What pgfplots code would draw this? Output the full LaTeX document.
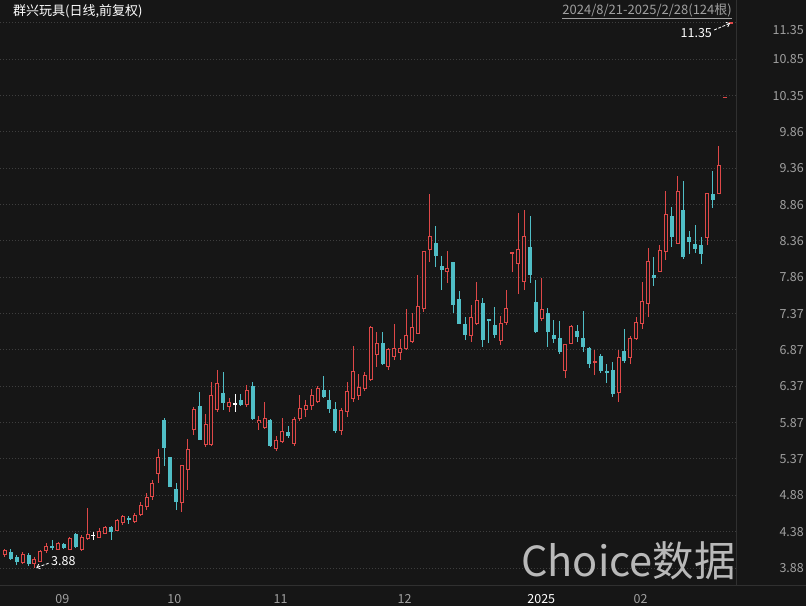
\documentclass[border=0pt]{standalone}
\usepackage{pgfplots}
\pgfplotsset{compat=1.18}
\usepackage{pgfplotstable}
\usepackage{fontspec}
\setmainfont{Noto Sans CJK SC}
\usetikzlibrary{arrows.meta}

\definecolor{bg}{RGB}{22,22,22}
\definecolor{upc}{RGB}{222,72,72}
\definecolor{dnc}{RGB}{80,190,198}
\definecolor{gridc}{RGB}{62,62,62}
\definecolor{linec}{RGB}{48,48,48}
\definecolor{labc}{RGB}{160,160,160}
\definecolor{wmc}{RGB}{185,185,185}

% i = trading day (0 = 2024/8/21), o h l c
\pgfplotstableread{
i o h l c
0 4.06 4.14 4.03 4.12
3 3.95 4.10 3.94 4.06
5 3.94 4.03 3.88 3.99
6 3.97 4.13 3.96 4.11
7 4.12 4.22 4.09 4.18
9 4.14 4.23 4.13 4.21
11 4.14 4.30 4.13 4.28
13 4.14 4.33 4.11 4.30
14 4.28 4.70 4.27 4.34
16 4.30 4.43 4.29 4.38
17 4.35 4.46 4.34 4.44
19 4.40 4.55 4.39 4.53
20 4.51 4.61 4.47 4.58
22 4.52 4.63 4.49 4.60
23 4.61 4.79 4.59 4.74
24 4.72 4.91 4.68 4.85
25 4.86 5.09 4.81 5.04
26 5.18 5.51 5.05 5.40
30 4.78 5.29 4.65 5.29
31 5.23 5.65 4.95 5.51
32 5.78 6.09 5.70 6.05
34 5.57 5.99 5.54 5.84
35 5.57 6.43 5.55 6.25
36 6.05 6.59 6.02 6.41
38 6.09 6.21 6.02 6.15
41 6.12 6.39 6.08 6.31
43 5.87 5.96 5.77 5.90
44 5.81 6.15 5.78 5.93
46 5.52 5.69 5.49 5.63
47 5.61 5.93 5.60 5.75
49 5.58 5.95 5.55 5.92
50 5.93 6.25 5.89 6.07
51 6.05 6.18 5.95 6.11
52 6.11 6.33 6.05 6.24
53 6.16 6.37 6.14 6.34
57 5.77 6.07 5.70 6.04
58 6.02 6.43 5.95 6.30
59 6.21 6.92 6.16 6.58
60 6.24 6.54 6.18 6.36
61 6.34 6.56 6.30 6.52
62 6.46 7.20 6.44 7.18
63 6.80 7.12 6.64 6.96
65 6.64 6.89 6.59 6.87
66 6.78 7.22 6.73 6.89
67 6.84 7.02 6.73 6.89
68 6.89 7.43 6.87 7.07
69 6.99 7.37 6.96 7.17
70 7.10 7.90 7.10 7.46
71 7.44 8.22 7.39 8.22
72 8.25 9.01 8.07 8.42
75 7.94 8.22 7.79 7.99
79 7.07 7.48 6.98 7.32
80 7.23 7.80 7.21 7.54
84 7.00 7.34 6.93 7.23
85 7.24 7.69 7.21 7.44
86 8.19 8.20 7.94 8.20
87 8.06 8.74 7.64 8.24
88 7.80 8.79 7.69 8.42
91 7.30 7.86 7.26 7.42
95 6.59 6.94 6.49 6.94
96 6.96 7.21 6.95 7.19
100 6.70 6.87 6.53 6.71
104 6.28 6.87 6.15 6.77
106 6.77 7.06 6.68 7.03
107 7.03 7.32 7.01 7.24
108 7.23 7.80 7.15 7.53
109 7.50 8.26 7.32 8.08
111 7.94 8.31 7.94 8.23
112 8.22 9.05 8.10 8.72
114 8.33 9.25 8.33 9.04
119 8.41 9.01 8.31 9.01
121 9.01 9.67 9.00 9.39
122 10.33 10.33 10.33 10.33
123 11.35 11.35 11.35 11.35
}\up

\pgfplotstableread{
i o h l c
1 4.10 4.14 3.99 4.01
2 4.03 4.06 3.92 3.96
4 4.06 4.09 3.91 3.94
8 4.18 4.27 4.13 4.15
10 4.21 4.22 4.14 4.15
12 4.34 4.36 4.15 4.17
18 4.44 4.46 4.27 4.38
21 4.56 4.59 4.48 4.54
27 5.91 5.93 5.28 5.53
28 5.40 5.40 4.99 4.99
29 4.96 5.05 4.68 4.78
33 6.10 6.29 5.63 5.63
37 6.28 6.56 6.04 6.14
40 6.18 6.27 6.10 6.12
42 6.37 6.43 5.91 5.92
45 5.91 5.92 5.54 5.55
48 5.74 5.83 5.66 5.69
54 6.32 6.51 6.21 6.23
55 6.18 6.32 6.01 6.06
56 6.06 6.16 5.73 5.76
64 6.96 7.12 6.66 6.68
73 8.33 8.57 8.01 8.16
74 8.02 8.15 7.69 7.96
76 8.07 8.07 7.37 7.48
77 7.57 7.68 7.22 7.23
78 7.23 7.32 7.00 7.07
81 7.51 7.58 6.91 7.00
82 7.29 7.29 6.96 7.26
83 7.21 7.46 7.03 7.07
89 8.28 8.71 7.78 7.90
90 7.52 7.83 7.10 7.12
92 7.38 7.44 6.91 7.11
93 7.07 7.28 6.96 7.02
94 7.03 7.26 6.81 6.84
97 7.13 7.21 6.98 7.04
98 7.03 7.40 6.84 6.91
99 6.90 6.91 6.62 6.68
101 6.79 6.82 6.55 6.58
102 6.58 6.68 6.42 6.55
103 6.59 6.71 6.23 6.27
105 6.86 7.15 6.69 6.72
110 7.90 8.14 7.74 7.85
113 8.70 8.83 8.28 8.41
115 8.79 9.19 8.12 8.14
116 8.41 8.50 8.19 8.35
117 8.32 8.58 8.20 8.25
118 8.31 8.41 8.05 8.19
120 9.01 9.32 8.82 8.92
}\down

\pgfplotstableread{
i o h l c
15 4.33 4.37 4.27 4.33
39 6.13 6.27 6.02 6.13
}\flat

% one error bar per candle: colour, line width
\pgfplotsset{
  candle/.style 2 args={draw=none, mark=none, forget plot,
    error bars/y dir=both, error bars/y explicit,
    error bars/error mark=none,
    error bars/error bar style={draw=#1, line width=#2, solid}},
}

\begin{document}
\begin{tikzpicture}[x=1pt,y=1pt]
\fill[bg] (0,0) rectangle (806,606);

\begin{axis}[
  at={(0pt,21pt)}, anchor=south west,
  scale only axis, width=736pt, height=585pt,
  xmin=-0.847, xmax=123.9,
  ymin=3.647, ymax=11.665,
  axis line style={draw=none},
  tick style={draw=none},
  ymajorgrids,
  major grid style={draw=gridc, line width=1pt, dash pattern=on 1pt off 2pt},
  ytick={3.88,4.378,4.876,5.374,5.872,6.37,6.868,7.366,7.864,8.362,8.86,9.358,9.856,10.354,10.852,11.35},
  yticklabels={3.88,4.38,4.88,5.37,5.87,6.37,6.87,7.37,7.86,8.36,8.86,9.36,9.86,10.35,10.85,\raisebox{-7pt}{11.35}},
  yticklabel pos=right,
  yticklabel style={anchor=base east, inner sep=0pt, xshift=68pt, yshift=-4.5pt, text=labc,
    font=\fontsize{12.5pt}{14pt}\selectfont},
  xtick={8,27,45,66,88,106},
  xticklabels={09,10,11,12,\textcolor{white}{2025},02},
  xticklabel style={anchor=base west, inner sep=0pt, xshift=3pt, yshift=-18.5pt, text=labc,
    font=\fontsize{12.5pt}{14pt}\selectfont},
  /pgf/number format/assume math mode=true,
]
% up days: hollow red
\addplot[candle={upc}{1pt}] table[x=i, y expr=(\thisrow{h}+\thisrow{l})/2,
  y error expr=(\thisrow{h}-\thisrow{l})/2] {\up};
\addplot[candle={upc}{4pt}] table[x=i, y expr=(\thisrow{o}+\thisrow{c})/2,
  y error expr=abs(\thisrow{c}-\thisrow{o})/2+0.00685] {\up};
\addplot[candle={bg}{2pt}] table[x=i, y expr=(\thisrow{o}+\thisrow{c})/2,
  y error expr={max(abs(\thisrow{c}-\thisrow{o})/2-0.00685,0)}] {\up};
% down days: filled cyan
\addplot[candle={dnc}{1pt}] table[x=i, y expr=(\thisrow{h}+\thisrow{l})/2,
  y error expr=(\thisrow{h}-\thisrow{l})/2] {\down};
\addplot[candle={dnc}{4pt}] table[x=i, y expr=(\thisrow{o}+\thisrow{c})/2,
  y error expr={max(abs(\thisrow{c}-\thisrow{o})/2,0.00685)}] {\down};
% unchanged: white cross
\addplot[candle={white}{1pt}] table[x=i, y expr=(\thisrow{h}+\thisrow{l})/2,
  y error expr=(\thisrow{h}-\thisrow{l})/2] {\flat};
\addplot[candle={white}{4pt}] table[x=i, y expr=(\thisrow{o}+\thisrow{c})/2,
  y error expr=0.00685] {\flat};

% low / high labels
\draw[white, line width=0.8pt, dash pattern=on 3pt off 1.5pt, -{Straight Barb[length=3pt,width=5pt]}]
  (axis cs:7.4,3.945) -- (axis cs:5.3,3.885);
\node[anchor=base west, inner sep=0pt, text=white, font=\fontsize{12.5pt}{14pt}\selectfont]
  at (axis cs:7.8,3.975) [yshift=-4.5pt] {3.88};
\draw[white, line width=0.8pt, dash pattern=on 3pt off 1.5pt, -{Straight Barb[length=3pt,width=5pt]}]
  (axis cs:120.2,11.254) -- (axis cs:122.9,11.346);
\node[anchor=base east, inner sep=0pt, text=white, font=\fontsize{12.5pt}{14pt}\selectfont]
  at (axis cs:119.85,11.213) [yshift=-4.5pt] {11.35};
\end{axis}

\draw[linec, line width=1pt] (0,21) -- (806,21);
\draw[linec, line width=1pt] (736,21) -- (736,606);

\node[anchor=west, inner sep=0pt, text=white, font=\fontsize{13pt}{15pt}\selectfont]
  at (13,594.5) {群兴玩具(日线,前复权)};
\node[anchor=east, inner sep=0pt, text=labc, font=\fontsize{13pt}{15pt}\selectfont]
  at (732,594.5) {\underline{2024/8/21-2025/2/28(124根)}};
\node[anchor=base west, inner sep=0pt, text=wmc, font=\fontsize{41.5pt}{46pt}\selectfont]
  at (521,30) {Choice数据};

\pgfresetboundingbox
\path (0,0) rectangle (806,606);
\end{tikzpicture}
\end{document}
